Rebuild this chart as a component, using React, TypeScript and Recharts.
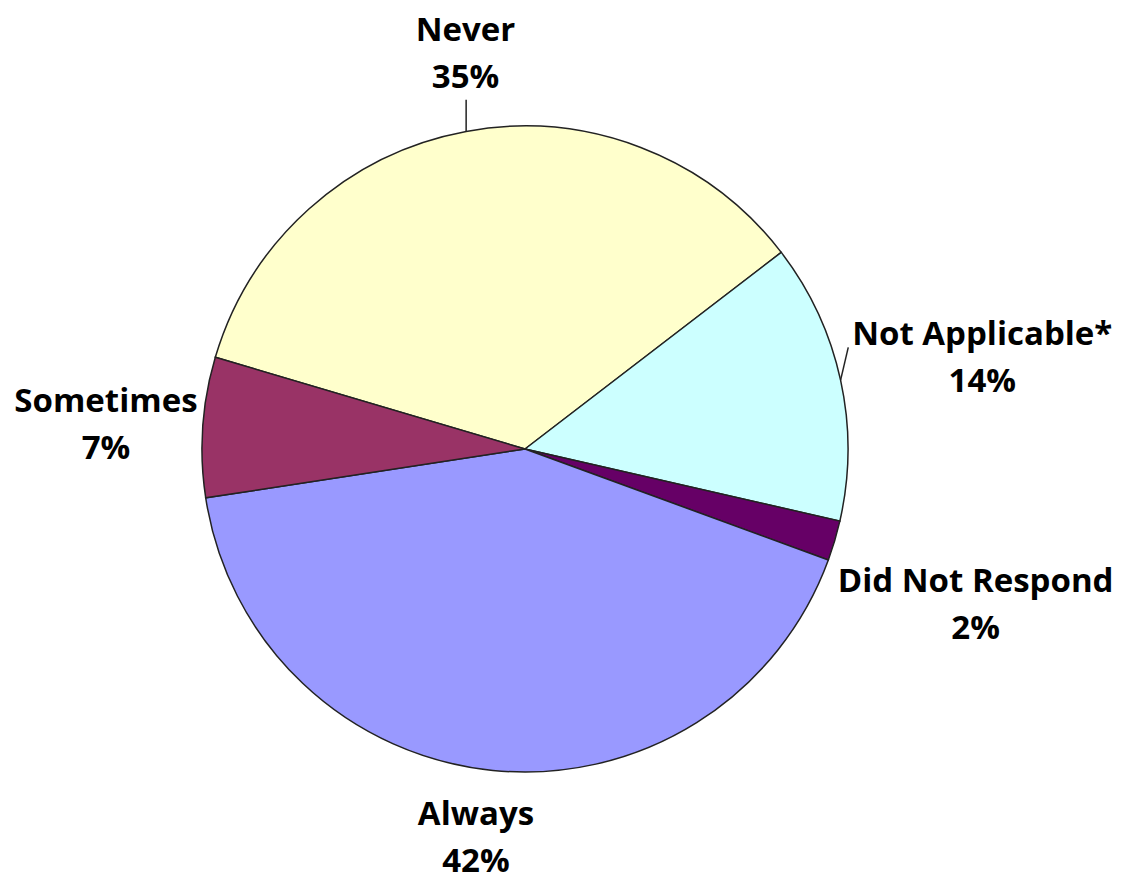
import React from 'react';
import { PieChart, Pie, Cell } from 'recharts';

const categories = ['Never', 'Not Applicable*', 'Did Not Respond', 'Always', 'Sometimes'];
const percentages = [35, 14, 2, 42, 7];
const COLORS = ['#FFFFCC', '#CCFFFF', '#660066', '#9999FF', '#993366'];

const pieData = categories.map((name, i) => ({ name, value: percentages[i] }));

const RAD = Math.PI / 180;
// label distance from the centre and small nudges, one per slice
const LABEL_R = [403, 468, 470, 393, 420];
const LABEL_NUDGE = [[14, 0], [0, 8], [0, 22], [-10, -3], [0, 4]];

const renderLabel = (props: any) => {
  const { cx, cy, midAngle, outerRadius, index, name, value } = props;
  const r = LABEL_R[index];
  const x = cx + r * Math.cos(-midAngle * RAD) + LABEL_NUDGE[index][0];
  const y = cy + r * Math.sin(-midAngle * RAD) + LABEL_NUDGE[index][1];
  const ax = cx + outerRadius * Math.cos(-midAngle * RAD);
  const ay = cy + outerRadius * Math.sin(-midAngle * RAD);
  let leader = null;
  if (index === 0) {
    leader = <line x1={ax} y1={ay} x2={ax} y2={y + 47} stroke="#222" strokeWidth={1.5} />;
  } else if (index === 1) {
    leader = <line x1={ax} y1={ay} x2={x - 134} y2={y - 10} stroke="#222" strokeWidth={1.5} />;
  }
  return (
    <g key={`lbl-${index}`}>
      {leader}
      <text x={x} y={y - 12} textAnchor="middle" fill="#000" fontSize={33} fontWeight={700} fontFamily="'Open Sans', sans-serif">
        {name}
      </text>
      <text x={x} y={y + 35} textAnchor="middle" fill="#000" fontSize={33} fontWeight={700} fontFamily="'Open Sans', sans-serif">
        {`${value}%`}
      </text>
    </g>
  );
};

export default function App() {
  return (
    <div style={{ position: 'absolute', left: 0, top: 0, width: 1125, height: 886, background: '#fff' }}>
      <PieChart width={1125} height={886}>
        <Pie
          data={pieData}
          dataKey="value"
          nameKey="name"
          cx={520}
          cy={444}
          outerRadius={323}
          startAngle={163.5}
          endAngle={-196.5}
          stroke="#222"
          strokeWidth={1.5}
          label={renderLabel}
          labelLine={false}
          isAnimationActive={false}
        >
          {pieData.map((_, i) => <Cell key={`cell-${i}`} fill={COLORS[i]} />)}
        </Pie>
      </PieChart>
    </div>
  );
}
